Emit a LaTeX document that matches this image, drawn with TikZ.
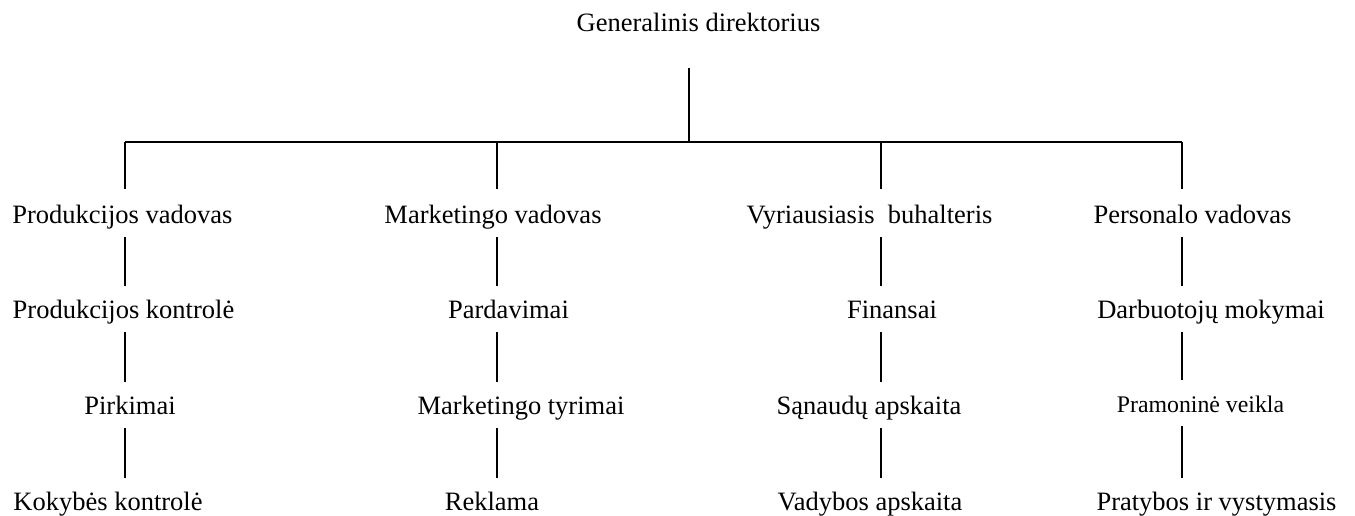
\documentclass[tikz,border=0pt]{standalone}
\usepackage{fontspec}
\setmainfont{Liberation Serif}
\tikzset{
  lbl/.style={anchor=base, inner xsep=0pt, inner ysep=0pt, outer sep=0pt,
    text height=18pt, text depth=6pt, font=\fontsize{26.5}{30}\selectfont},
  small/.style={font=\fontsize{23.8}{28}\selectfont},
  conn/.style={line width=1.3pt, line cap=butt},
  vlink/.style={conn, shorten <=8pt, shorten >=14.5pt}
}
\begin{document}
\begin{tikzpicture}[x=1pt,y=-1pt]
\useasboundingbox (0,0) rectangle (1355,515);
% column line positions and bus junctions
\coordinate (j0) at (689,142);
\coordinate (c1) at (125,142);
\coordinate (c2) at (497,142);
\coordinate (c3) at (881,142);
\coordinate (c4) at (1182,142);
% top
\node[lbl] (g) at (698.5,31.7) {Generalinis direktorius};
% row 1
\node[lbl] (a1) at (122.4,223) {Produkcijos vadovas};
\node[lbl] (b1) at (493,223) {Marketingo vadovas};
\node[lbl] (d1) at (869.5,223) {Vyriausiasis\ \ buhalteris};
\node[lbl] (e1) at (1192.5,223) {Personalo vadovas};
% row 2
\node[lbl] (a2) at (123.5,318) {Produkcijos kontrolė};
\node[lbl] (b2) at (508.5,318) {Pardavimai};
\node[lbl] (d2) at (892,318) {Finansai};
\node[lbl] (e2) at (1211,318) {Darbuotojų mokymai};
% row 3
\node[lbl] (a3) at (130,414) {Pirkimai};
\node[lbl] (b3) at (521,414) {Marketingo tyrimai};
\node[lbl] (d3) at (869,414) {Sąnaudų apskaita};
\node[lbl,small] (e3) at (1200.5,412) {Pramoninė veikla};
% row 4
\node[lbl] (a4) at (108,510) {Kokybės kontrolė};
\node[lbl] (b4) at (492,510) {Reklama};
\node[lbl] (d4) at (870,510) {Vadybos apskaita};
\node[lbl] (e4) at (1216.5,510) {Pratybos ir vystymasis};
% connectors
\draw[conn, shorten <=30pt] (g.south -| j0) -- (j0);
\draw[conn] (c1) -- (c4);
\foreach \c/\n in {c1/a1, c2/b1, c3/d1, c4/e1}
  \draw[conn, shorten >=16pt] (\c) -- (\n.north -| \c);
\foreach \c/\u/\l in {c1/a1/a2, c1/a2/a3, c1/a3/a4,
                      c2/b1/b2, c2/b2/b3, c2/b3/b4,
                      c3/d1/d2, c3/d2/d3, c3/d3/d4,
                      c4/e1/e2, c4/e2/e3, c4/e3/e4}
  \draw[vlink] (\u.south -| \c) -- (\l.north -| \c);
\end{tikzpicture}
\end{document}
